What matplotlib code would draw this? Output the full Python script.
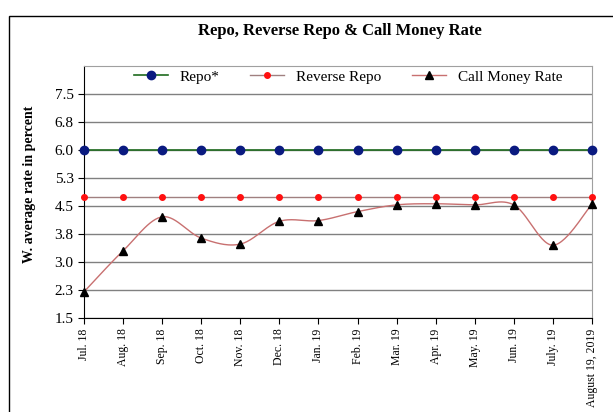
import numpy as np
import matplotlib.pyplot as plt
from matplotlib.patches import Rectangle

months = ["Jul. 18", "Aug. 18", "Sep. 18", "Oct. 18", "Nov. 18", "Dec. 18", "Jan. 19",
          "Feb. 19", "Mar. 19", "Apr. 19", "May. 19", "Jun. 19", "July. 19", "August 19, 2019"]
repo = [6.0] * 14
reverse_repo = [4.75] * 14
call_money = [2.2, 3.3, 4.21, 3.64, 3.48, 4.09, 4.11, 4.35, 4.53, 4.56, 4.53, 4.53, 3.45, 4.55]
yticks = [1.5, 2.25, 3.0, 3.75, 4.5, 5.25, 6.0, 6.75, 7.5]
ytick_labels = ["1.5", "2.3", "3.0", "3.8", "4.5", "5.3", "6.0", "6.8", "7.5"]

plt.rcParams['font.family'] = ['Liberation Serif', 'DejaVu Serif']


def smooth(x, y, n=30):
    # excel-like smoothed line (catmull-rom as cubic bezier)
    x = np.asarray(x, float)
    y = np.asarray(y, float)
    px = np.concatenate([[x[0]], x, [x[-1]]])
    py = np.concatenate([[y[0]], y, [y[-1]]])
    t = np.linspace(0, 1, n)[:, None]
    xs, ys = [], []
    for i in range(len(x) - 1):
        p0 = np.array([px[i + 1], py[i + 1]])
        p3 = np.array([px[i + 2], py[i + 2]])
        c1 = p0 + (np.array([px[i + 2], py[i + 2]]) - np.array([px[i], py[i]])) / 6
        c2 = p3 - (np.array([px[i + 3], py[i + 3]]) - np.array([px[i + 1], py[i + 1]])) / 6
        b = ((1 - t) ** 3) * p0 + 3 * ((1 - t) ** 2) * t * c1 + 3 * (1 - t) * t ** 2 * c2 + t ** 3 * p3
        xs.append(b[:, 0])
        ys.append(b[:, 1])
    return np.concatenate(xs), np.concatenate(ys)


fig = plt.figure(figsize=(6.13, 4.12), dpi=100)
fig.patches.append(Rectangle((9 / 613, -0.1), 1.2, 1 - 16 / 412 + 0.1, transform=fig.transFigure,
                             fill=False, edgecolor='black', linewidth=1.0))
ax = fig.add_axes([84 / 613, 1 - 318 / 412, (592 - 84) / 613, (318 - 66) / 412])

x = np.arange(len(months))
ax.plot(x, repo, color='#1e6b1e', linewidth=1.2, marker='o', markersize=6,
        markerfacecolor='#0a1a80', markeredgecolor='#0a1a80', label='Repo*', zorder=3, clip_on=False)
ax.plot(x, reverse_repo, color='#a08080', linewidth=1.0, marker='o', markersize=4,
        markerfacecolor='#ff1010', markeredgecolor='#ff1010', label='Reverse Repo', zorder=3,
        clip_on=False)
sx, sy = smooth(x, call_money)
ax.plot(sx, sy, color='#c87070', linewidth=1.0, zorder=3)
ax.plot(x, call_money, linestyle='none', marker='^', markersize=6, color='black', zorder=4,
        clip_on=False)
ax.plot([], [], color='#c87070', linewidth=1.0, marker='^', markersize=6,
        markerfacecolor='black', markeredgecolor='black', label='Call Money Rate')

ax.set_ylim(1.5, 8.25)
ax.set_xlim(0, len(months) - 1)
ax.set_yticks(yticks)
ax.set_yticklabels(ytick_labels, fontsize=11)
ax.set_xticks(x)
ax.set_xticklabels(months, rotation=90, fontsize=8.5)
ax.yaxis.grid(True, color='#808080', linewidth=1.0)
ax.set_axisbelow(True)
ax.spines['top'].set_color('#a0a0a0')
ax.spines['right'].set_color('#a0a0a0')
ax.tick_params(axis='both', direction='out', length=4, color='black')
ax.set_ylabel('W. average rate in percent', fontsize=10, fontweight='bold')
ax.yaxis.set_label_coords(-0.095, 0.53)

fig.text(0.555, 0.925, 'Repo, Reverse Repo & Call Money Rate', ha='center', va='center',
         fontsize=12, fontweight='bold')
ax.legend(loc='upper center', ncol=3, frameon=False, fontsize=11, handlelength=2.2,
          columnspacing=2.0, bbox_to_anchor=(0.52, 1.02), borderaxespad=0.2)

fig.savefig('out.png', dpi=100)
